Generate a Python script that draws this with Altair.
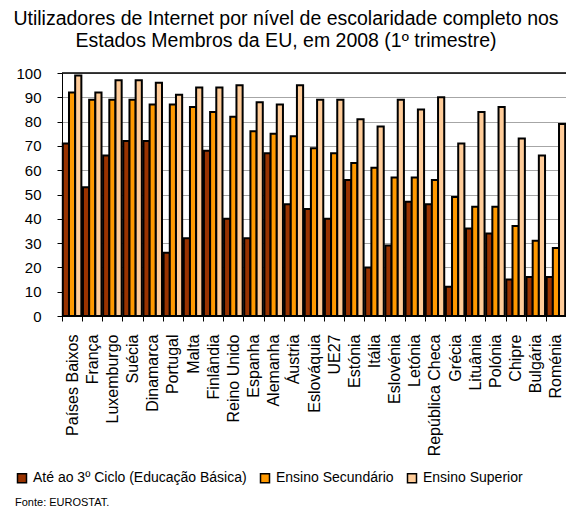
import altair as alt
import pandas as pd

paises = ["Países Baixos", "França", "Luxemburgo", "Suécia", "Dinamarca", "Portugal",
          "Malta", "Finlândia", "Reino Unido", "Espanha", "Alemanha", "Áustria",
          "Eslováquia", "UE27", "Estónia", "Itália", "Eslovénia", "Letónia",
          "República Checa", "Grécia", "Lituânia", "Polónia", "Chipre", "Bulgária", "Roménia"]
basica = [71, 53, 66, 72, 72, 26, 32, 68, 40, 32, 67, 46, 44, 40, 56, 20, 29, 47, 46, 12, 36, 34, 15, 16, 16]
secundario = [92, 89, 89, 89, 87, 87, 86, 84, 82, 76, 75, 74, 69, 67, 63, 61, 57, 57, 56, 49, 45, 45, 37, 31, 28]
superior = [99, 92, 97, 97, 96, 91, 94, 94, 95, 88, 87, 95, 89, 89, 81, 78, 89, 85, 90, 71, 84, 86, 73, 66, 79]

series = ["Até ao 3º Ciclo (Educação Básica)", "Ensino Secundário", "Ensino Superior"]
cores = ["#993300", "#FF9900", "#FFCC99"]

titulo = ["Utilizadores de Internet por nível de escolaridade completo nos",
          "Estados Membros da EU, em 2008 (1º trimestre)"]
fonte = ["Fonte: EUROSTAT."]

rows = []
for i, p in enumerate(paises):
    for s, vals in zip(series, [basica, secundario, superior]):
        rows.append({"pais": p, "serie": s, "valor": vals[i]})
df = pd.DataFrame(rows)

F = "Arial, Liberation Sans, sans-serif"
W = 504
H = 243
step = W / len(paises)

bars = alt.Chart(df).mark_bar(stroke="black", strokeWidth=2).encode(
    x=alt.X("pais:N", sort=paises, title=None,
            scale=alt.Scale(paddingInner=0.08, paddingOuter=0.04),
            axis=alt.Axis(labelAngle=270, labelFontSize=16, labelFont=F, labelColor="black",
                          domainColor="black", tickColor="black", tickSize=5,
                          tickOffset=-step / 2, labelOffset=step / 2, labelPadding=13,
                          grid=False, labelLimit=300)),
    xOffset=alt.XOffset("serie:N", sort=series, scale=alt.Scale(paddingInner=0, paddingOuter=0)),
    y=alt.Y("valor:Q", title=None, scale=alt.Scale(domain=[0, 100], nice=False),
            axis=alt.Axis(values=list(range(0, 101, 10)), labelFontSize=15, labelFont=F,
                          labelColor="black", domainColor="black", tickColor="black",
                          tickSize=5, labelPadding=16, gridColor="#A6A6A6", gridWidth=1)),
    color=alt.Color("serie:N", sort=series, scale=alt.Scale(domain=series, range=cores),
                    legend=alt.Legend(title=None, orient="none", legendX=-47, legendY=398,
                                      direction="horizontal", symbolType="square",
                                      symbolSize=81, symbolStrokeColor="black",
                                      symbolStrokeWidth=1.5, labelFontSize=14, labelFont=F,
                                      labelColor="black", columnPadding=10, labelOffset=4,
                                      labelLimit=400)),
)

topo = alt.Chart(pd.DataFrame({"t": fonte})).mark_rule(color="black", strokeWidth=1.5).encode(
    x=alt.value(0), x2=alt.value(W), y=alt.value(0)
)

src = alt.Chart(pd.DataFrame({"t": fonte})).mark_text(
    align="left", baseline="middle", fontSize=11, font="Liberation Sans Narrow, Arial Narrow, Arial",
    color="black"
).encode(text="t:N", x=alt.value(-47), y=alt.value(430))

chart = alt.layer(bars, topo, src).properties(
    width=W, height=H,
    title=alt.TitleParams(titulo, fontSize=19.5, font=F, fontWeight="normal", color="black",
                          anchor="middle", dx=-28, offset=15, lineHeight=22),
    autosize=alt.AutoSizeParams(type="none"),
    padding={"left": 54, "top": 65, "right": 0, "bottom": 193},
).configure_view(stroke=None)

chart.save("out.html", embed_options={"renderer": "svg", "actions": False})
